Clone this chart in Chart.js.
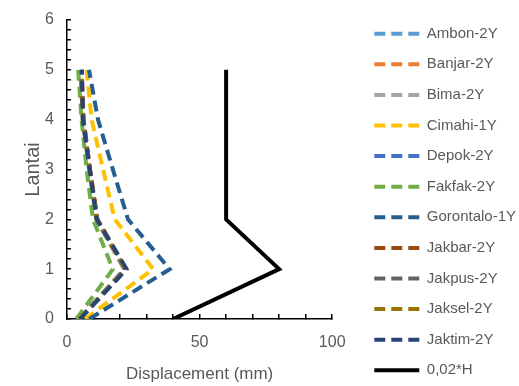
<!DOCTYPE html>
<html>
<head>
<meta charset="utf-8">
<script src="https://cdn.jsdelivr.net/npm/chart.js@4/dist/chart.umd.min.js"></script>
<style>
  html, body { margin: 0; padding: 0; background: #fff; }
  #wrap { width: 519px; height: 386px; }
</style>
</head>
<body>
<div id="wrap"><canvas id="chart"></canvas></div>
<script>
// lantai (sumbu y)
const floors = [0, 1, 2, 3, 4, 5];

// nama seri dan warna
const seriesNames = ["Ambon-2Y", "Banjar-2Y", "Bima-2Y", "Cimahi-1Y", "Depok-2Y", "Fakfak-2Y",
  "Gorontalo-1Y", "Jakbar-2Y", "Jakpus-2Y", "Jaksel-2Y", "Jaktim-2Y", "0,02*H"];
const seriesColors = ["#5B9BD5", "#ED7D31", "#A5A5A5", "#FFC000", "#4472C4", "#70AD47",
  "#255E91", "#9E480E", "#636363", "#997300", "#264478", "#000000"];

// displacement (mm) per lantai 0..5
const ambon     = [4.6, 21.8, 11.2, 8.4, 6.0, 5.2];
const banjar    = [4.8, 22.0, 11.4, 8.6, 6.2, 5.4];
const bima      = [4.5, 21.5, 11.0, 8.3, 5.9, 5.1];
const cimahi    = [6.8, 32.5, 18.0, 13.6, 9.3, 7.4];
const depok     = [4.7, 22.2, 11.3, 8.5, 6.1, 5.3];
const fakfak    = [3.5, 17.3, 9.8, 7.4, 5.5, 4.2];
const gorontalo = [8.4, 38.7, 23.0, 17.3, 11.7, 8.3];
const jakbar    = [4.9, 22.3, 11.5, 8.7, 6.3, 5.5];
const jakpus    = [4.8, 22.0, 11.3, 8.6, 6.1, 5.4];
const jaksel    = [4.7, 21.9, 11.2, 8.5, 6.0, 5.3];
const jaktim    = [4.9, 22.5, 11.2, 8.6, 6.0, 5.6];
const batas     = [40, 80, 60, 60, 60, 60];

const seriesValues = [ambon, banjar, bima, cimahi, depok, fakfak, gorontalo, jakbar, jakpus, jaksel, jaktim, batas];

const textColor = "#595959";
const fontFamily = "'Liberation Sans', Arial, sans-serif";

const datasets = seriesNames.map((name, i) => {
  const isLimit = i === seriesNames.length - 1;
  return {
    label: name,
    data: floors.map((f, j) => ({ x: seriesValues[i][j], y: f })),
    borderColor: seriesColors[i],
    backgroundColor: seriesColors[i],
    borderWidth: 4,
    borderDash: isLimit ? [] : [11, 6],
    showLine: true,
    pointRadius: 0,
    fill: false,
    order: seriesNames.length - i // seri terakhir digambar paling atas
  };
});

// sumbu kosong, hanya untuk memberi jarak
const spacer = (pos, size) => ({
  type: "linear",
  position: pos,
  display: true,
  ticks: { display: false },
  grid: { display: false },
  border: { display: false },
  afterFit: (scale) => {
    if (pos === "top") scale.height = size; else scale.width = size;
  }
});

new Chart(document.getElementById("chart"), {
  type: "scatter",
  data: { datasets },
  options: {
    responsive: true,
    maintainAspectRatio: false,
    animation: false,
    layout: { padding: { left: 21, top: 10, right: -7, bottom: -8 } },
    plugins: {
      tooltip: { enabled: false },
      legend: {
        position: "right",
        align: "center",
        maxWidth: 200,
        labels: {
          usePointStyle: true,
          pointStyle: "line",
          pointStyleWidth: 45,
          color: textColor,
          font: { family: fontFamily, size: 15 },
          padding: 15.6,
          sort: (a, b) => a.datasetIndex - b.datasetIndex,
          generateLabels: (chart) => {
            const items = Chart.defaults.plugins.legend.labels.generateLabels(chart);
            items.forEach(it => {
              const ds = chart.data.datasets[it.datasetIndex];
              it.lineDash = ds.borderDash;
              it.strokeStyle = ds.borderColor;
              it.lineWidth = 4;
            });
            return items;
          }
        }
      }
    },
    scales: {
      x: {
        type: "linear",
        min: 0,
        max: 100,
        afterFit: (scale) => {
          scale.height = 75;
          scale.paddingLeft = 0;
          scale.paddingRight = 0;
        },
        ticks: {
          stepSize: 10,
          color: textColor,
          font: { family: fontFamily, size: 16 },
          padding: 18.5,
          maxRotation: 0,
          autoSkip: false,
          callback: (v) => (v % 50 === 0 ? v : "")
        },
        grid: { drawOnChartArea: false, tickLength: -5, color: "#000", lineWidth: 1.5 },
        border: { color: "#000", width: 1.5 },
        title: {
          display: true,
          text: "Displacement (mm)",
          color: textColor,
          font: { family: fontFamily, size: 17 },
          padding: { top: 2, bottom: 9 }
        }
      },
      y: {
        type: "linear",
        min: 0,
        max: 6,
        afterFit: (scale) => {
          scale.width = 46;
          scale.paddingTop = 0;
          scale.paddingBottom = 0;
        },
        ticks: {
          stepSize: 0.2,
          color: textColor,
          font: { family: fontFamily, size: 16 },
          padding: 17,
          autoSkip: false,
          callback: (v) => (Math.abs(v - Math.round(v)) < 1e-6 ? Math.round(v) : "")
        },
        grid: { drawOnChartArea: false, tickLength: -4, color: "#000", lineWidth: 1.5 },
        border: { color: "#000", width: 1.5 },
        title: {
          display: true,
          text: "Lantai",
          color: textColor,
          font: { family: fontFamily, size: 20 },
          padding: { top: 0, bottom: 0 }
        }
      },
      gapRight: spacer("right", 26.5),
      gapTop: spacer("top", 10)
    }
  }
});
</script>
</body>
</html>
